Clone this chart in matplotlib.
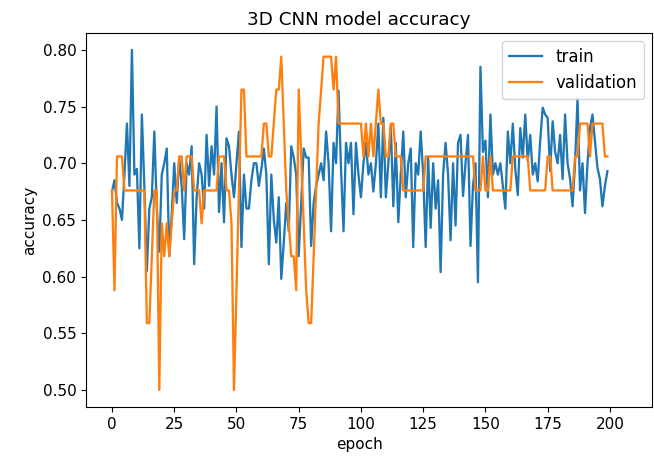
import numpy as np
import matplotlib.pyplot as plt

# training history values (200 epochs)
train_acc = [
    0.675, 0.685, 0.665, 0.660, 0.650, 0.690, 0.735, 0.680, 0.800, 0.690,
    0.695, 0.625, 0.743, 0.680, 0.605, 0.660, 0.670, 0.728, 0.660, 0.622,
    0.690, 0.700, 0.713, 0.618, 0.655, 0.700, 0.665, 0.705, 0.680, 0.633,
    0.700, 0.690, 0.715, 0.611, 0.670, 0.700, 0.690, 0.660, 0.725, 0.680,
    0.715, 0.690, 0.750, 0.657, 0.700, 0.648, 0.722, 0.715, 0.690, 0.670,
    0.700, 0.728, 0.626, 0.690, 0.660, 0.660, 0.685, 0.700, 0.700, 0.680,
    0.695, 0.713, 0.690, 0.611, 0.690, 0.650, 0.630, 0.670, 0.598, 0.630,
    0.665, 0.640, 0.715, 0.705, 0.690, 0.618, 0.665, 0.713, 0.705, 0.705,
    0.627, 0.665, 0.680, 0.690, 0.700, 0.685, 0.728, 0.700, 0.640, 0.718,
    0.700, 0.764, 0.695, 0.640, 0.718, 0.700, 0.718, 0.655, 0.718, 0.690,
    0.670, 0.700, 0.718, 0.690, 0.700, 0.675, 0.700, 0.735, 0.670, 0.740,
    0.670, 0.700, 0.733, 0.662, 0.718, 0.648, 0.690, 0.728, 0.670, 0.700,
    0.713, 0.626, 0.700, 0.690, 0.728, 0.690, 0.626, 0.705, 0.643, 0.700,
    0.660, 0.685, 0.604, 0.690, 0.718, 0.690, 0.632, 0.700, 0.645, 0.718,
    0.725, 0.671, 0.700, 0.725, 0.627, 0.680, 0.700, 0.595, 0.785, 0.710,
    0.720, 0.670, 0.743, 0.690, 0.700, 0.690, 0.700, 0.680, 0.660, 0.728,
    0.700, 0.735, 0.695, 0.672, 0.731, 0.705, 0.743, 0.702, 0.725, 0.690,
    0.700, 0.684, 0.720, 0.749, 0.743, 0.740, 0.693, 0.737, 0.710, 0.700,
    0.725, 0.686, 0.743, 0.700, 0.686, 0.662, 0.700, 0.757, 0.676, 0.700,
    0.656, 0.700, 0.731, 0.743, 0.720, 0.696, 0.686, 0.662, 0.680, 0.693,
]

val_acc = [
    0.676, 0.588, 0.706, 0.706, 0.706, 0.676, 0.676, 0.676, 0.676, 0.676,
    0.676, 0.676, 0.676, 0.676, 0.559, 0.559, 0.618, 0.676, 0.676, 0.500,
    0.647, 0.618, 0.647, 0.618, 0.647, 0.676, 0.676, 0.706, 0.706, 0.676,
    0.706, 0.706, 0.706, 0.676, 0.676, 0.676, 0.647, 0.676, 0.676, 0.676,
    0.676, 0.676, 0.676, 0.706, 0.706, 0.706, 0.676, 0.676, 0.647, 0.500,
    0.588, 0.676, 0.765, 0.765, 0.706, 0.706, 0.706, 0.706, 0.706, 0.706,
    0.706, 0.735, 0.735, 0.706, 0.706, 0.735, 0.765, 0.765, 0.794, 0.735,
    0.676, 0.647, 0.618, 0.618, 0.588, 0.765, 0.706, 0.647, 0.588, 0.559,
    0.559, 0.618, 0.676, 0.735, 0.765, 0.794, 0.794, 0.794, 0.794, 0.765,
    0.794, 0.735, 0.735, 0.735, 0.735, 0.735, 0.735, 0.735, 0.735, 0.735,
    0.735, 0.706, 0.735, 0.706, 0.735, 0.706, 0.735, 0.765, 0.735, 0.735,
    0.706, 0.706, 0.735, 0.735, 0.706, 0.706, 0.706, 0.676, 0.676, 0.676,
    0.676, 0.676, 0.676, 0.676, 0.676, 0.676, 0.706, 0.706, 0.706, 0.706,
    0.706, 0.706, 0.706, 0.706, 0.706, 0.706, 0.706, 0.706, 0.706, 0.706,
    0.706, 0.706, 0.706, 0.706, 0.706, 0.706, 0.676, 0.676, 0.676, 0.706,
    0.676, 0.676, 0.706, 0.676, 0.676, 0.676, 0.676, 0.676, 0.676, 0.676,
    0.676, 0.706, 0.706, 0.706, 0.706, 0.706, 0.706, 0.706, 0.676, 0.676,
    0.676, 0.676, 0.676, 0.676, 0.676, 0.706, 0.706, 0.676, 0.676, 0.676,
    0.676, 0.676, 0.676, 0.676, 0.676, 0.676, 0.706, 0.706, 0.735, 0.735,
    0.735, 0.735, 0.706, 0.735, 0.735, 0.735, 0.735, 0.735, 0.706, 0.706,
]

epoch_ticks = [0, 25, 50, 75, 100, 125, 150, 175, 200]

fig = plt.figure(figsize=(6.54, 4.63), dpi=100)
ax = fig.add_axes([0.1315, 0.121, 0.8654, 0.808])

ax.plot(train_acc, linewidth=1.65, label='train')
ax.plot(val_acc, linewidth=1.65, label='validation')

ax.set_xlim(-10.44, 216.9)
ax.set_xticks(epoch_ticks)
ax.set_title('3D CNN model accuracy', fontsize=13.2, x=0.482)
ax.set_xlabel('epoch', fontsize=11, x=0.484)
ax.set_ylabel('accuracy', fontsize=11)
ax.tick_params(labelsize=11)
ax.legend(loc='upper right', fontsize=12)

fig.savefig('out.png', dpi=100)
